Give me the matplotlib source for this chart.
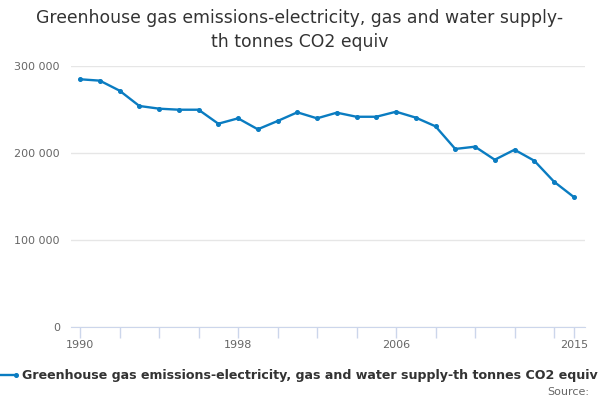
import matplotlib
matplotlib.use("Agg")
import matplotlib.pyplot as plt
from matplotlib.ticker import FuncFormatter

# Datos
years = list(range(1990, 2016))
emissions = [285100, 283500, 272000, 254400, 251300, 250100, 250100, 234000,
             240200, 227600, 237100, 247100, 240200, 246700, 242000, 242000,
             247800, 241000, 231000, 205000, 207600, 192600, 204100, 191500,
             167400, 149800]
y_ticks = [0, 100000, 200000, 300000]
x_labels = [1990, 1998, 2006, 2015]
x_ticks = list(range(1990, 2015, 2)) + [2015]

serie = "Greenhouse gas emissions-electricity, gas and water supply-th tonnes CO2 equiv"
color_linea = "#0a7cc1"

fig = plt.figure(figsize=(6, 4), dpi=100)
ax = fig.add_axes([71 / 600, 1 - 327.3 / 400, (585 - 71) / 600, (327.3 - 66.3) / 400])

ax.plot(years, emissions, color=color_linea, linewidth=1.7, marker="o",
        markersize=2.6, clip_on=False)

ax.set_xlim(1989.54, 2015.57)
ax.set_ylim(0, 300000)

# Rejilla horizontal
ax.set_yticks(y_ticks)
ax.yaxis.set_major_formatter(FuncFormatter(lambda v, p: f"{int(v):,}".replace(",", " ")))
ax.grid(axis="y", color="#e6e6e6", linewidth=1)
ax.set_axisbelow(True)

# Eje x con marcas cada dos años
ax.set_xticks(x_ticks)
ax.set_xticklabels([str(y) if y in x_labels else "" for y in x_ticks])
ax.tick_params(axis="x", length=8, width=1, color="#ccd6eb", labelsize=8,
               labelcolor="#666666", pad=1)
ax.tick_params(axis="y", length=0, labelsize=8, labelcolor="#666666", pad=8)

for lado in ["top", "right", "left"]:
    ax.spines[lado].set_visible(False)
ax.spines["bottom"].set_color("#ccd6eb")

# Titulo
fig.text(0.5, 1 - 18 / 400, "Greenhouse gas emissions-electricity, gas and water supply-",
         ha="center", va="center", fontsize=12.4, color="#333333")
fig.text(0.5, 1 - 42 / 400, "th tonnes CO2 equiv",
         ha="center", va="center", fontsize=12.4, color="#333333")

# Leyenda
fig.lines.append(plt.Line2D([0 / 600, 16 / 600], [1 - 375 / 400, 1 - 375 / 400],
                            color=color_linea, linewidth=1.7, marker="o", markersize=2.6,
                            markevery=[1], transform=fig.transFigure))
fig.text(22 / 600, 1 - 375 / 400, serie, ha="left", va="center", fontsize=9.1,
         fontweight="bold", color="#333333")

fig.text(589 / 600, 1 - 392 / 400, "Source:", ha="right", va="center",
         fontsize=8, color="#666666")

fig.savefig("out.png", dpi=100)
